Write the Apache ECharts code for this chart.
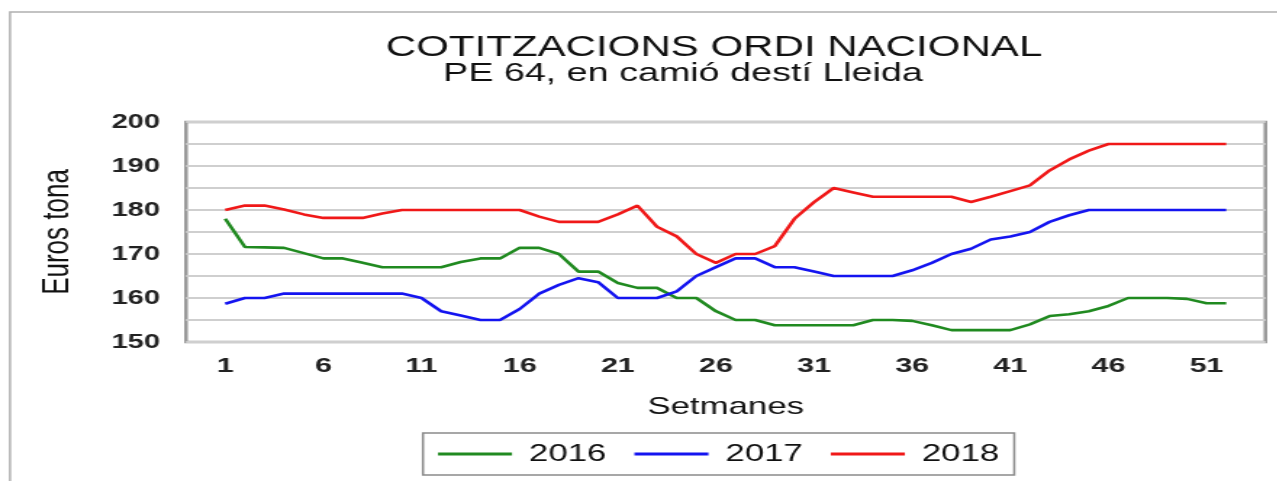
<!DOCTYPE html>
<html>
<head>
<meta charset="utf-8">
<script src="https://cdn.jsdelivr.net/npm/echarts@6/dist/echarts.min.js"></script>
<style>
  html, body { margin: 0; padding: 0; background: #fff; overflow: hidden; }
  #chart { height: 481px; transform-origin: 0 0; }
</style>
</head>
<body>
<div id="chart"></div>
<script>
// the picture is stretched sideways, so the chart is drawn narrower and widened
const SX = 1.45;

const weeks = [1, 2, 3, 4, 5, 6, 7, 8, 9, 10, 11, 12, 13, 14, 15, 16, 17, 18, 19, 20, 21, 22, 23, 24, 25, 26,
  27, 28, 29, 30, 31, 32, 33, 34, 35, 36, 37, 38, 39, 40, 41, 42, 43, 44, 45, 46, 47, 48, 49, 50, 51, 52];
const xTickLabels = [1, 6, 11, 16, 21, 26, 31, 36, 41, 46, 51];
const yTickLabels = [150, 160, 170, 180, 190, 200];

const v2016 = [178, 171.6, 171.5, 171.4, 170.2, 169, 169, 168, 167, 167, 167, 167, 168.2, 169, 169, 171.4,
  171.4, 170, 166, 166, 163.4, 162.3, 162.3, 160, 160, 157, 155, 155, 153.8, 153.8, 153.8, 153.8, 153.8,
  155, 155, 154.8, 153.8, 152.7, 152.7, 152.7, 152.7, 154, 155.9, 156.3, 157, 158.2, 160, 160, 160, 159.8,
  158.8, 158.8];
const v2017 = [158.7, 160, 160, 161, 161, 161, 161, 161, 161, 161, 160, 157, 156, 155, 155, 157.5, 161,
  163, 164.5, 163.6, 160, 160, 160, 161.5, 165, 167, 169, 169, 167, 167, 166, 165, 165, 165, 165, 166.3,
  168, 170, 171.2, 173.3, 174, 175, 177.3, 178.8, 180, 180, 180, 180, 180, 180, 180, 180];
const v2018 = [180, 181, 181, 180.1, 179, 178.2, 178.2, 178.2, 179.2, 180, 180, 180, 180, 180, 180, 180,
  178.5, 177.3, 177.3, 177.3, 179, 181, 176.2, 174, 170, 168, 170, 170, 171.8, 178, 181.8, 185, 184, 183,
  183, 183, 183, 183, 181.8, 183, 184.3, 185.6, 189, 191.5, 193.5, 195, 195, 195, 195, 195, 195, 195];

const el = document.getElementById('chart');
el.style.width = (1278 / SX) + 'px';
el.style.transform = 'scaleX(' + SX + ')';

const px = x => x / SX;   // picture x -> chart x
const sans = 'Liberation Sans, Arial, sans-serif';

const pairs = vals => weeks.map((w, i) => [w, vals[i]]);

const chart = echarts.init(el);
chart.setOption({
  backgroundColor: '#fff',
  animation: false,
  title: [
    {
      text: 'COTITZACIONS ORDI NACIONAL',
      left: px(714), top: 33, textAlign: 'center', padding: 0,
      textStyle: { fontFamily: sans, fontSize: 29, fontWeight: 'normal', color: '#111' }
    },
    {
      text: 'PE 64, en camió destí Lleida',
      left: px(683), top: 61, textAlign: 'center', padding: 0,
      textStyle: { fontFamily: sans, fontSize: 26, fontWeight: 'normal', color: '#111' }
    }
  ],
  graphic: [{
    type: 'rect', silent: true,
    shape: { x: px(10), y: 12, width: 2000, height: 1000 },
    style: { fill: 'none', stroke: '#b0b0b0', lineWidth: 1.5 }
  }],
  legend: {
    left: px(423), top: 433,
    padding: [9, px(15), 9, px(15)],
    icon: 'rect',
    itemGap: px(28), itemWidth: px(74), itemHeight: 3,
    borderColor: '#8a8a8a', borderWidth: 1.5,
    textStyle: { fontFamily: sans, fontSize: 24, color: '#111', padding: [0, 0, 0, px(17) - 5] },
    data: ['2016', '2017', '2018']
  },
  grid: {
    left: px(186), right: 1278 / SX - px(1266), top: 122, bottom: 139,
    show: true, borderColor: '#9a9a9a', borderWidth: 2.5, backgroundColor: '#fff'
  },
  xAxis: {
    type: 'value', min: -1, max: 54, interval: 1,
    name: 'Setmanes', nameLocation: 'middle', nameGap: 53,
    nameTextStyle: { fontFamily: sans, fontSize: 24, color: '#111' },
    axisLine: { show: false }, axisTick: { show: false }, splitLine: { show: false },
    axisLabel: {
      margin: 14, fontFamily: sans, fontSize: 21, fontWeight: 'bold', color: '#222',
      formatter: v => xTickLabels.includes(v) ? String(v) : ''
    }
  },
  yAxis: {
    type: 'value', min: 150, max: 200, interval: 5,
    name: 'Euros tona', nameLocation: 'middle', nameGap: 75,
    nameTextStyle: { fontFamily: 'Liberation Sans Narrow, Liberation Sans, sans-serif', fontSize: 26, color: '#111' },
    axisLine: { show: false }, axisTick: { show: false },
    splitLine: { lineStyle: { color: '#cfcfcf', width: 2 } },
    axisLabel: {
      margin: px(26), fontFamily: sans, fontSize: 20, fontWeight: 'bold', color: '#222',
      formatter: v => yTickLabels.includes(v) ? String(v) : ''
    }
  },
  series: [
    { name: '2016', type: 'line', data: pairs(v2016), symbol: 'none', lineStyle: { color: '#208a20', width: 2.6 }, itemStyle: { color: '#208a20' } },
    { name: '2017', type: 'line', data: pairs(v2017), symbol: 'none', lineStyle: { color: '#1414f0', width: 2.6 }, itemStyle: { color: '#1414f0' } },
    { name: '2018', type: 'line', data: pairs(v2018), symbol: 'none', lineStyle: { color: '#f01818', width: 2.6 }, itemStyle: { color: '#f01818' } }
  ]
});
</script>
</body>
</html>
